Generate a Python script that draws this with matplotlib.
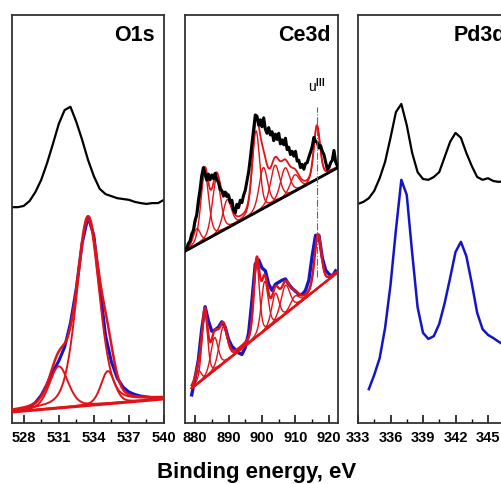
import numpy as np
import matplotlib
matplotlib.use('Agg')
import matplotlib.pyplot as plt
from matplotlib.ticker import MultipleLocator

plt.rcParams['font.family'] = ['Liberation Sans', 'DejaVu Sans']
plt.rcParams['font.weight'] = 'bold'
plt.rcParams['mathtext.fontset'] = 'custom'
plt.rcParams['mathtext.rm'] = 'Liberation Sans'

RED = '#e11218'
BLUE = '#1515c8'

# ---- O1s ----
o1s_start = 527.0
o1s_step = 0.5
o1s_top = [52.9, 52.9, 53.2, 54.4, 56.6, 59.6, 63.7, 68.4, 73.3, 76.7, 77.5, 73.8, 69.4, 64.5,
           60.5, 57.4, 56.1, 55.6, 55.1, 54.9, 54.7, 54.2, 53.9, 53.7, 53.9, 53.9, 54.7]
o1s_meas = [2.8, 3.0, 3.4, 4.0, 5.0, 6.8, 9.5, 12.6, 15.2, 18.6, 24.5, 33.0, 44.0, 50.5,
            46.0, 33.5, 21.5, 15.0, 11.0, 8.8, 7.6, 7.0, 6.6, 6.4, 6.2, 6.1, 6.1]
o1s_base_ev = [527.0, 540.0]
o1s_base_val = [2.7, 5.9]
o1s_pk_c = [531.0, 533.5, 535.2]
o1s_pk_h = [10.2, 45.5, 8.0]
o1s_pk_w = [1.9, 2.3, 1.4]

# ---- Ce3d ----
ce_top_start = 877.5
ce_top_step = 0.5
ce_top = [42.8, 44.0, 44.6, 46.3, 47.2, 49.6, 51.0, 54.5, 57.2, 60.6, 62.6, 61.0, 59.5, 61.0,
          59.6, 60.8, 59.9, 61.2, 59.6, 59.0, 57.2, 57.0, 55.6, 56.6, 55.5, 55.9, 54.0, 54.6,
          52.2, 51.5, 53.6, 52.8, 54.6, 54.0, 55.8, 57.0, 59.3, 61.5, 64.8, 68.5, 72.0, 75.5,
          75.2, 73.0, 74.3, 72.6, 74.8, 72.0, 71.0, 72.4, 70.6, 71.4, 69.2, 70.8, 69.5, 71.0,
          68.4, 69.4, 68.2, 69.8, 67.0, 67.6, 65.8, 66.6, 65.4, 66.6, 64.2, 64.4, 62.6, 63.4,
          62.2, 63.6, 63.8, 65.2, 66.4, 67.8, 70.0, 69.0, 68.8, 67.4, 68.0, 66.6, 65.8, 64.0,
          62.2, 62.6, 63.8, 64.4, 66.8, 64.0, 63.0]
ce_top_base_ev = [877.0, 922.7]
ce_top_base_val = [42.1, 62.6]
ce_top_c = [880.5, 882.9, 886.4, 889.6, 898.2, 900.4, 903.9, 906.9, 909.8, 916.4]
ce_top_h = [4.0, 16.5, 13.5, 7.0, 20.0, 10.0, 9.0, 7.0, 4.0, 13.0]
ce_top_w = [2.5, 2.8, 3.0, 3.0, 2.6, 3.0, 3.2, 3.2, 3.2, 2.2]

ce_low_start = 879.0
ce_low_step = 1.0
ce_low = [6.9, 11.0, 15.5, 23.0, 28.5, 25.0, 22.5, 22.8, 23.5, 24.8, 23.5, 20.5, 18.8, 18.0,
          17.2, 16.8, 18.5, 22.0, 30.0, 39.0, 40.0, 38.0, 37.3, 34.0, 32.5, 34.0, 34.5, 35.0,
          35.3, 34.0, 33.0, 32.3, 31.5, 31.5, 32.5, 35.0, 41.0, 46.0, 46.0, 40.5, 37.5, 36.5,
          36.0, 37.3]
ce_low_base_ev = [879.0, 922.4]
ce_low_base_val = [8.5, 36.8]
ce_low_c = [881.0, 882.9, 885.8, 888.4, 898.4, 900.8, 904.0, 907.0, 909.8, 916.7]
ce_low_h = [3.0, 16.0, 8.0, 9.0, 18.0, 12.0, 7.0, 7.0, 2.5, 13.0]
ce_low_w = [2.0, 2.0, 2.6, 2.8, 2.0, 2.4, 2.6, 3.2, 3.0, 2.4]
u3_ev = 916.5
u3_span = [35.8, 77.5]

# ---- Pd3d ----
pd_top_start = 333.0
pd_top = [53.7, 54.2, 55.1, 56.9, 60.0, 64.0, 69.9, 76.2, 78.2, 73.0, 66.2, 61.5, 59.8, 59.6,
          60.3, 61.5, 65.2, 68.9, 71.1, 69.9, 66.2, 63.0, 60.3, 59.6, 60.0, 59.3, 59.1, 59.3, 59.1]
pd_low_start = 334.0
pd_low = [8.3, 11.8, 15.9, 23.3, 33.8, 47.3, 59.6, 55.9, 41.7, 28.4, 22.1, 20.6, 21.3, 24.3,
          29.4, 35.5, 41.9, 44.4, 40.9, 34.3, 27.0, 23.0, 21.6, 20.8, 19.9, 19.1, 18.6]
pd_step = 0.5


def ev_axis(start, step, vals):
    return start + step * np.arange(len(vals))


def pv(x, c, h, w, eta=0.3):
    d = 4 * ((x - c) / w) ** 2
    return h * ((1 - eta) * np.exp(-np.log(2) * d) + eta / (1 + d))


def fitted(ax, grid, base_ev, base_val, cs, hs, ws, comp_lw, env_lw):
    base = np.interp(grid, base_ev, base_val)
    env = base.copy()
    for c, h, w in zip(cs, hs, ws):
        comp = pv(grid, c, h, w)
        env += comp
        ax.plot(grid, base + comp, color=RED, lw=comp_lw, zorder=3)
    ax.plot(grid, env, color=RED, lw=env_lw, zorder=4)
    return base


fig = plt.figure(figsize=(5.02, 4.84), dpi=100)
W, H = 502.0, 484.0
bottom = (H - 423) / H
height = 408 / H
ax1 = fig.add_axes([12 / W, bottom, 152 / W, height])
ax2 = fig.add_axes([185 / W, bottom, 153 / W, height])
ax3 = fig.add_axes([358 / W, bottom, 162.5 / W, height])

# O1s
ax1.plot(ev_axis(o1s_start, o1s_step, o1s_top), o1s_top, color='black', lw=1.6)
ax1.plot(ev_axis(o1s_start, o1s_step, o1s_meas), o1s_meas, color=BLUE, lw=2.2, zorder=2)
g1 = np.linspace(527.0, 540.0, 600)
b1 = fitted(ax1, g1, o1s_base_ev, o1s_base_val, o1s_pk_c, o1s_pk_h, o1s_pk_w, 1.4, 1.8)
ax1.plot(g1, b1, color=RED, lw=2.2, zorder=4)

# Ce3d upper
g2 = np.linspace(877.6, 922.4, 800)
fitted(ax2, g2, ce_top_base_ev, ce_top_base_val, ce_top_c, ce_top_h, ce_top_w, 1.0, 1.3)
ax2.plot(ev_axis(ce_top_start, ce_top_step, ce_top), ce_top, color='black', lw=2.2, zorder=5)
ax2.plot(ce_top_base_ev, ce_top_base_val, color='black', lw=2.0, zorder=6)

# Ce3d lower
ax2.plot(ev_axis(ce_low_start, ce_low_step, ce_low), ce_low, color=BLUE, lw=2.4, zorder=2)
g3 = np.linspace(879.0, 922.4, 800)
b3 = fitted(ax2, g3, ce_low_base_ev, ce_low_base_val, ce_low_c, ce_low_h, ce_low_w, 1.0, 1.7)
ax2.plot(g3, b3, color=RED, lw=1.8, zorder=4)
ax2.vlines(u3_ev, u3_span[0], u3_span[1], color='#666666', lw=0.8, linestyles='-.', zorder=7)
ax2.text(u3_ev - 0.3, 80.5, r'u$^{\mathrm{III}}$', ha='center', va='bottom',
         fontsize=10, fontweight='normal')

# Pd3d
ax3.plot(ev_axis(pd_top_start, pd_step, pd_top), pd_top, color='black', lw=1.6)
ax3.plot(ev_axis(pd_low_start, pd_step, pd_low), pd_low, color=BLUE, lw=1.8)

for ax, lim, major, title, tx, ha in [
        (ax1, (527.0, 540.0), 3, 'O1s', 0.94, 'right'),
        (ax2, (877.0, 922.7), 10, 'Ce3d', 0.955, 'right'),
        (ax3, (333.0, 348.0), 3, 'Pd3d', 0.59, 'left')]:
    ax.set_xlim(*lim)
    ax.set_ylim(0, 100)
    ax.set_yticks([])
    ax.xaxis.set_major_locator(MultipleLocator(major))
    ax.xaxis.set_minor_locator(MultipleLocator(major / 2))
    ax.tick_params(axis='x', which='major', direction='in', length=5.5, width=1.1,
                   labelsize=10.5, pad=6, top=False)
    ax.tick_params(axis='x', which='minor', direction='in', length=3, width=1.0, top=False)
    for sp in ax.spines.values():
        sp.set_color('#333333')
        sp.set_linewidth(1.3)
    ax.text(tx, 0.975, title, transform=ax.transAxes, ha=ha, va='top',
            fontsize=15.5, fontweight='bold')

fig.text(257 / W, 1 - 478 / H, 'Binding energy, eV', ha='center', va='baseline',
         fontsize=16, fontweight='bold')

fig.savefig('out.png', dpi=100)
